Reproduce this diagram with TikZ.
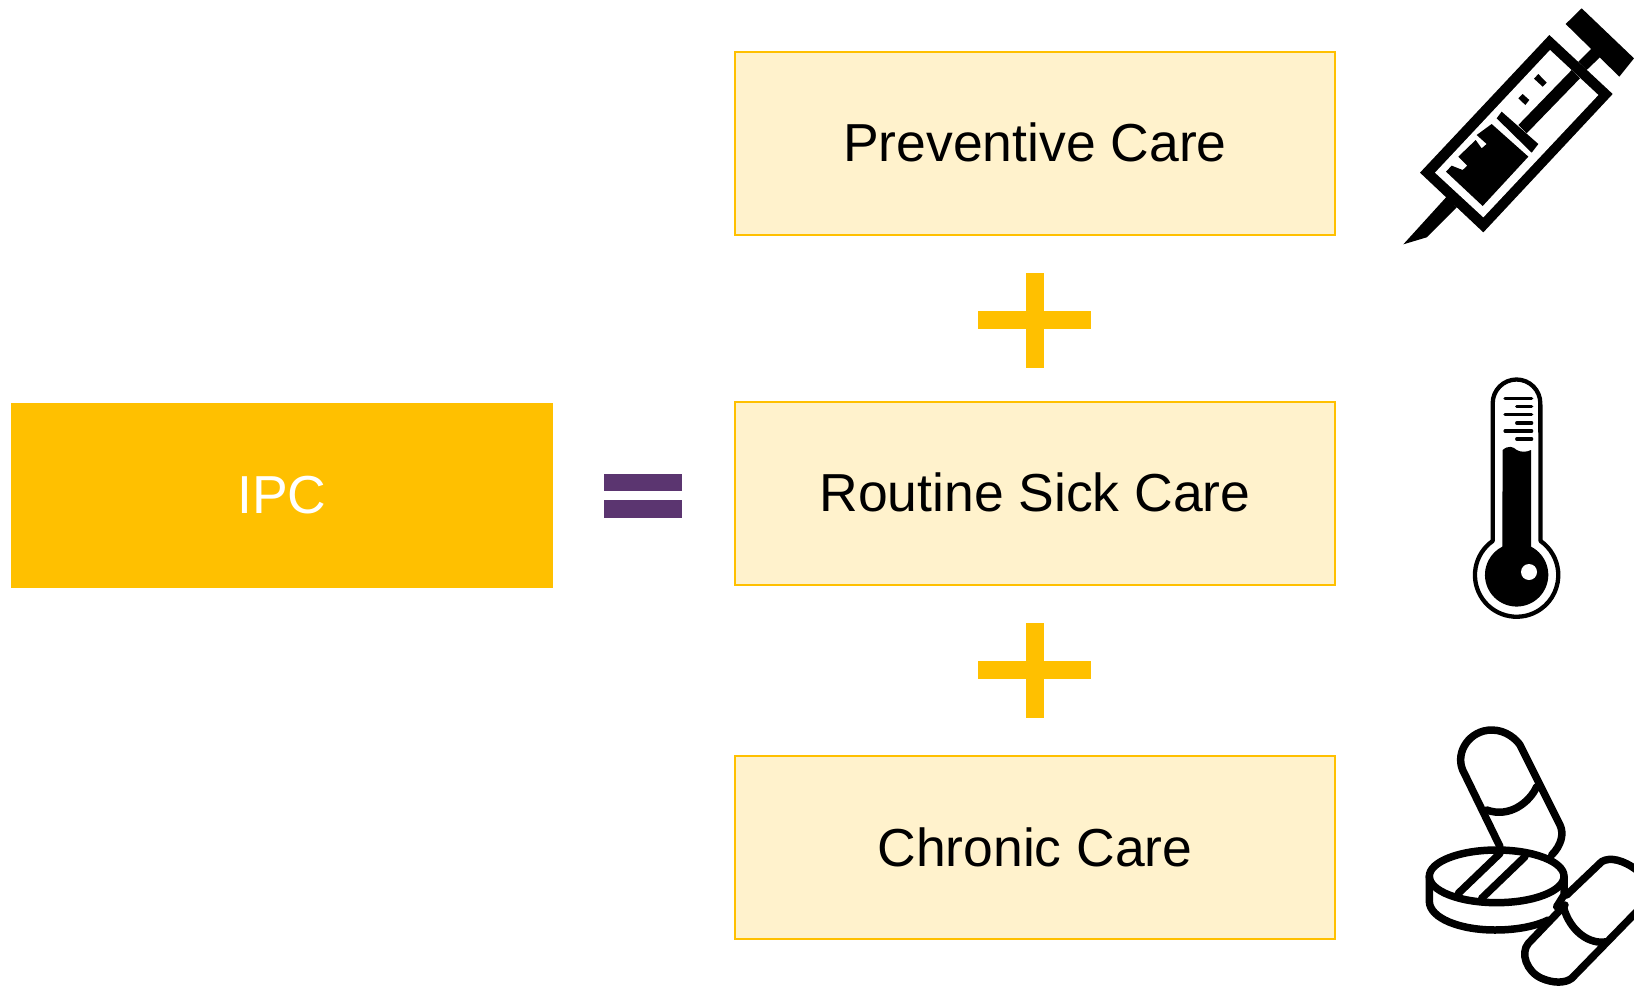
\documentclass[tikz,border=0pt]{standalone}
\usepackage{fontspec}
\setmainfont{Liberation Sans}
\definecolor{gold}{HTML}{FFC000}
\definecolor{cream}{HTML}{FFF2CC}
\definecolor{plum}{HTML}{5B3570}
\tikzset{
  carebox/.style={draw=gold,fill=cream,line width=2pt,minimum width=600pt,minimum height=183pt,inner sep=0pt,font=\fontsize{53.5}{60}\selectfont,text=black},
  ipcbox/.style={fill=gold,minimum width=542pt,minimum height=185pt,inner sep=0pt,font=\fontsize{53.5}{60}\selectfont,text=white},
  goldbar/.style={fill=gold},
  plumbar/.style={fill=plum},
  ink/.style={fill=black},
  hole/.style={fill=white},
  stroke/.style={draw=black,line join=round,line cap=round},
  pillline/.style={stroke,line width=7.5pt},
}
\begin{document}
\begin{tikzpicture}[x=1pt,y=1pt,yscale=-1]
\useasboundingbox (0,0) rectangle (1634,986);
\begin{scope}
\clip (0,0) rectangle (1634,986);
% boxes
\node[ipcbox] (ipc) at (282,495.5) {\raisebox{1pt}{IPC}};
\node[carebox] (prev) at (1035,143) {\raisebox{1pt}{Preventive Care}};
\node[carebox] (sick) at (1035,493) {\raisebox{1pt}{Routine Sick Care}};
\node[carebox] (chron) at (1035,847.5) {\raisebox{1pt}{Chronic Care}};
% equals
\fill[plumbar] (604,474) rectangle (682,491);
\fill[plumbar] (604,500) rectangle (682,518);
% plus signs
\fill[goldbar] (978,311) rectangle (1091,329);
\fill[goldbar] (1026,273) rectangle (1044,368);
\fill[goldbar] (978,661) rectangle (1091,679);
\fill[goldbar] (1026,623) rectangle (1044,718);
% syringe
\begin{scope}[shift={(1390,0)},scale=1/3]
\fill[ink] (575,25) -- (732,175) -- (688,230) -- (527,72) -- cycle;
\fill[ink] (610,140) -- (637,165) -- (590,210) -- (565,185) -- cycle;
\fill[ink] (478,105) -- (668,282) -- (280,697) -- (90,518) -- cycle;
\fill[hole] (480,150) -- (625,285) -- (280,652) -- (135,518) -- cycle;
\fill[ink] (170,590) -- (200,622) -- (110,712) -- (40,733) -- cycle;
\fill[ink] (545,210) -- (570,235) -- (410,400) -- (385,375) -- cycle;
\fill[ink] (335,335) -- (445,432) -- (425,458) -- (320,355) -- cycle;
\fill[ink] (305,372) -- (415,470) -- (278,618) -- (168,515) -- (185,497) -- (218,510) -- (232,497) -- (205,470) -- (257,420) -- (275,445) -- (290,432) -- (260,405) -- cycle;
\fill[ink] (398,282) -- (418,300) -- (406,315) -- (385,295) -- cycle;
\fill[ink] (445,222) -- (470,248) -- (458,260) -- (432,236) -- cycle;
\end{scope}
% thermometer
\begin{scope}[shift={(1450,365)},scale=1/3]
\draw[stroke,line width=4.3pt,fill=white] (128,528) arc (234.9:-54.9:125) -- (271,115) arc (0:-180:71.5) -- cycle;
\fill[ink] (158,255) .. controls (175,240) and (190,245) .. (200,255) .. controls (212,262) and (230,262) .. (243,255) -- (243,545) arc (-63:243:95) -- cycle;
\fill[hole] (237,621) circle (24);
\foreach \yy/\xx in {100/165,125/200,149/165,174/200,198/165,222/200}
  \draw[stroke,line width=3.2pt] (\xx,\yy) -- (245,\yy);
\end{scope}
% pills
\begin{scope}[shift={(1410,715)},scale=1/3]
\draw[pillline] (270,395) -- (158,165) .. controls (135,110) and (180,45) .. (245,45) .. controls (290,45) and (320,75) .. (330,90) -- (450,330) .. controls (462,355) and (455,390) .. (425,420);
\draw[pillline] (230,285) .. controls (300,310) and (360,260) .. (380,215);
\draw[pillline] (260,484) ellipse (202 and 79);
\draw[pillline] (145,535) -- (270,415);
\draw[pillline] (215,550) -- (345,425);
\draw[pillline] (58,484) -- (58,560) .. controls (60,610) and (150,645) .. (255,645) .. controls (330,645) and (385,630) .. (415,615);
\draw[pillline] (462,484) -- (462,540) -- (440,575);
\draw[pillline] (470,540) -- (575,440) .. controls (600,425) and (640,435) .. (680,465);
\draw[pillline] (465,570) -- (355,685) .. controls (330,715) and (350,770) .. (395,790) .. controls (430,805) and (465,805) .. (485,790) -- (680,590);
\draw[pillline] (460,575) .. controls (480,650) and (540,690) .. (590,680);
\end{scope}
\end{scope}
\end{tikzpicture}
\end{document}
